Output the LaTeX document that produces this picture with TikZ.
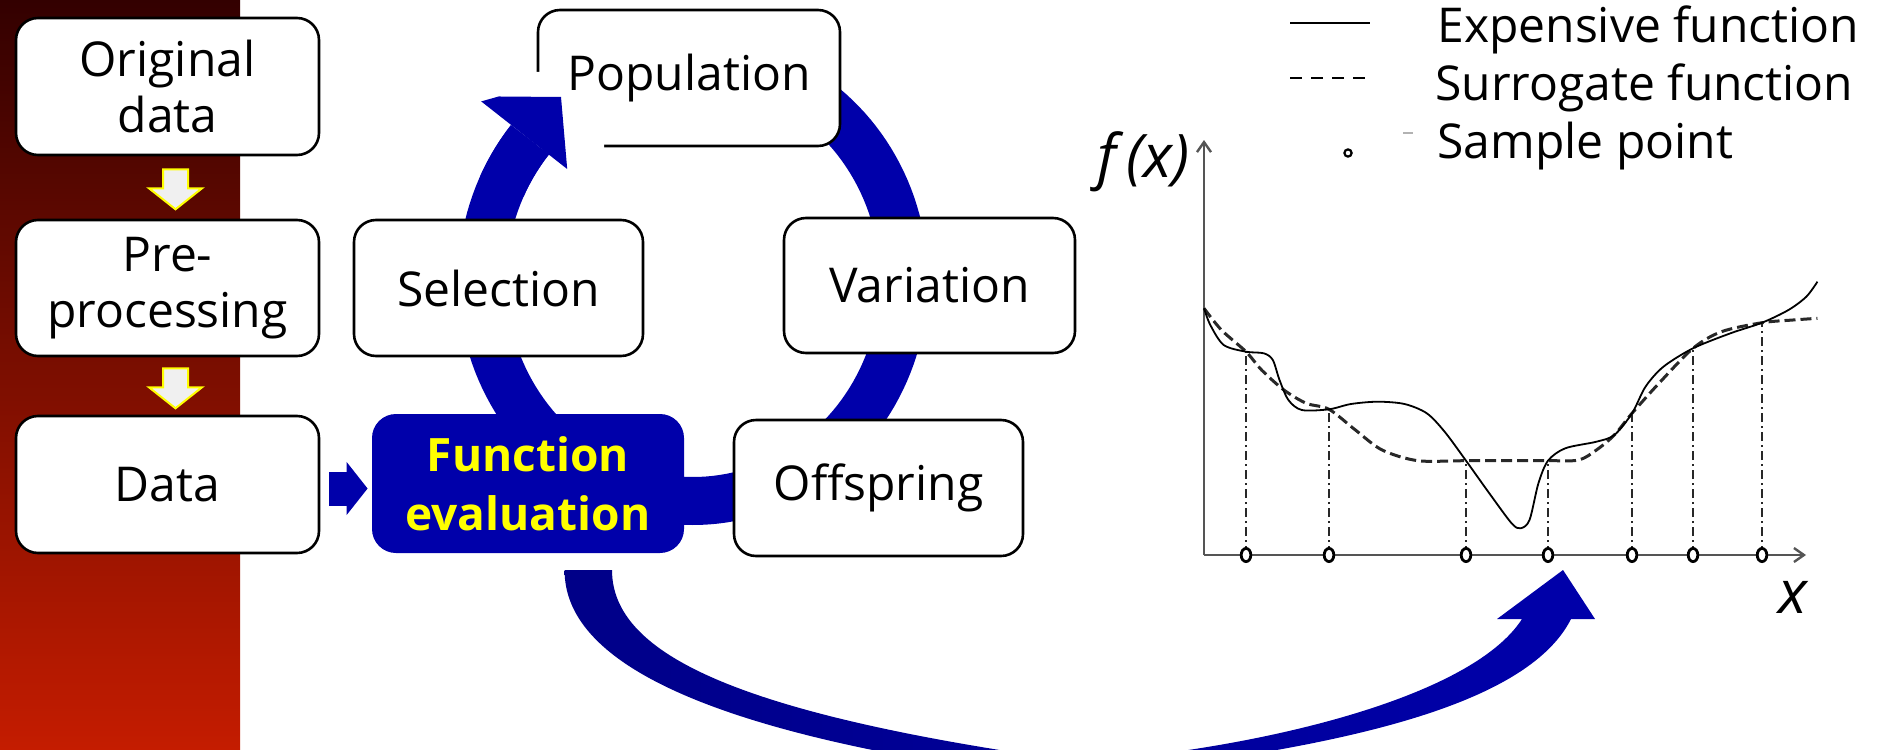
\documentclass[tikz,border=0pt]{standalone}
\usepackage{fontspec}
\setmainfont{Open Sans}
\usetikzlibrary{arrows.meta,calc}
\definecolor{ringblue}{RGB}{0,0,170}
\definecolor{navyblue}{RGB}{0,0,136}
\definecolor{paneltop}{RGB}{51,0,0}
\definecolor{panelbot}{RGB}{196,28,0}
\definecolor{hiliteyellow}{RGB}{255,255,0}
\definecolor{arrowfill}{RGB}{240,240,240}
\definecolor{axisgray}{RGB}{85,85,85}
\definecolor{curvegray}{RGB}{40,40,40}
\begin{document}
\begin{tikzpicture}[x=0.5pt,y=-0.5pt,
  box/.style={draw=black, line width=1.3pt, fill=white, rounded corners=11pt,
    align=center, inner sep=0pt, font=\fontsize{24}{28}\selectfont},
  evalbox/.style={fill=ringblue, draw=none, rounded corners=12pt, align=center,
    inner sep=0pt, text=hiliteyellow, font=\bfseries\fontsize{23}{29.5}\selectfont},
  downarrow/.style={draw=hiliteyellow, line width=1pt, fill=arrowfill, line join=miter},
  axisline/.style={axisgray, line width=1.2pt, -{Straight Barb[length=5pt,width=7pt]}},
  guide/.style={curvegray, line width=0.6pt, dash pattern=on 4.5pt off 2pt on 1pt off 2pt},
  expcurve/.style={black, line width=0.9pt},
  surcurve/.style={curvegray, line width=1.5pt, dash pattern=on 5.5pt off 2.5pt},
  sample/.style={black, line width=1.4pt, fill=white},
  legendtext/.style={font=\fontsize{24}{28}\selectfont, anchor=base west, inner sep=0pt},
  mathlabel/.style={font=\itshape\fontsize{30}{30}\selectfont, inner sep=0pt}
]
\useasboundingbox (0,0) rectangle (1882,749);

% left panel
\shade[top color=paneltop, bottom color=panelbot] (0,0) rectangle (240,749);

% evolutionary cycle ring (top part runs under the population box)
\draw[ringblue, line width=24pt] plot[domain=-75:219.4, samples=140, variable=\t]
  ({693+211*cos(\t)},{280+221*sin(\t)});

% curved arrow from the evaluation step to the chart (its lowest part runs off the page)
\shade[left color=navyblue, right color=ringblue]
  (564.6,570) .. controls (564,660) and (700,735) .. (1060,780)
  .. controls (1280,755) and (1520,720) .. (1571,619)
  -- (1595,619) -- (1563,570) -- (1497,619) -- (1522,619)
  .. controls (1470,700) and (1250,750) .. (1080,762)
  .. controls (740,715) and (612,655) .. (612,570) -- cycle;

% data preparation column
\node[box, minimum width=151.5pt, minimum height=68.5pt] (orig) at (167.5,86.5) {Original\\data};
\node[box, minimum width=151.5pt, minimum height=68pt] (pre) at (167.5,288) {Pre-\\processing};
\node[box, minimum width=151.5pt, minimum height=68.5pt] (data) at (167.5,484.5) {Data};

\draw[downarrow, shift={(orig.south)}]
  (-4.5,13) -- (20.5,13) -- (20.5,32) -- (34.5,32) -- (8,53) -- (-18.5,32) -- (-4.5,32) -- cycle;
\draw[downarrow, shift={(pre.south)}]
  (-4.5,11) -- (20.5,11) -- (20.5,30) -- (34.5,30) -- (8,51) -- (-18.5,30) -- (-4.5,30) -- cycle;

% evolutionary loop boxes
\node[box, minimum width=151pt, minimum height=68pt] (pop) at (689,78) {Population};
\node[box, minimum width=144.5pt, minimum height=68pt] (sel) at (498.5,288) {Selection};
\node[box, minimum width=145.5pt, minimum height=67.5pt] (var) at (929.5,285.5) {Variation};
\node[box, minimum width=144.5pt, minimum height=68pt] (off) at (878.5,488) {Offspring};
\node[evalbox, minimum width=156pt, minimum height=69.5pt] (func) at (528,483.5) {Function\\evaluation};

\draw[ringblue, line width=17pt, -{Triangle[length=10.5pt,width=26pt]},
  shorten <=4.5pt, shorten >=2pt] ([yshift=-2pt]data.east) -- ([yshift=-2pt]data.east -| func.west);

% arrow head of the ring, partly washed out over the population box corner
\fill[white] (535,72) -- (566,72) -- (566,112) -- (604,112) -- (604,149) -- (535,149) -- cycle;
\draw[ringblue, line width=24pt] plot[domain=205:219.4, samples=20, variable=\t]
  ({693+211*cos(\t)},{280+221*sin(\t)});
\begin{scope}
  \clip (440,96) -- (561,97) -- (569,190) -- (440,190) -- cycle;
  \fill[ringblue] (481.2,101.4) -- (582.4,72.9) -- (578.6,178.0) -- cycle;
\end{scope}

% chart: axes
\coordinate (origin) at (1204,555);
\coordinate (xend) at (1806,555);
\coordinate (yend) at (1204,140);
\draw[axisline] (origin) -- (xend);
\draw[axisline] (origin) -- (yend);

% sample guides
\foreach \sx/\sy in {1246/351.7, 1329/409.3, 1466/460.7, 1548/460.7, 1632/413.3, 1693/348.3, 1762/322.7}
  \draw[guide] (\sx,555) -- (\sx,\sy);

% surrogate model
\draw[surcurve] plot[smooth, tension=0.5] coordinates {(1204,308.3) (1221.4,330) (1246,351.7)
  (1261.6,370) (1283.9,390) (1306.3,403.3) (1329,409.3) (1355.4,430) (1382.1,450) (1417.9,460.7)
  (1466,460.7) (1548,460.7) (1578.6,460) (1596.4,450) (1614.3,435) (1632,413.3) (1658.9,383.3)
  (1693,348.3) (1721.4,331.7) (1762,322.7) (1792.9,320) (1817.4,318.3)};

% expensive function
\draw[expcurve] plot[smooth, tension=0.5] coordinates {(1204,308.3) (1210.3,325) (1223.7,345)
  (1246,351.7) (1263.8,353.3) (1272.8,360) (1279.5,380) (1288.4,400) (1301.8,410) (1329,409.3)
  (1350.9,404) (1377.7,401.7) (1404.5,404) (1426.8,413.3) (1444.6,431.7) (1466,460.7)
  (1489.3,493.3) (1511.6,523.3) (1520.5,528.3) (1529.5,520) (1538.4,483.3) (1548,460.7)
  (1565.2,448.3) (1596.4,441.7) (1614.3,435) (1632,413.3) (1645.5,386.7) (1663.4,366.7)
  (1693,348.3) (1730.4,333.3) (1762,322.7) (1788.4,310) (1806.3,296.7) (1817.4,281.7)};

% sample points on the axis
\foreach \sx in {1246, 1329, 1466, 1548, 1632, 1693, 1762}
  \draw[sample] (\sx,555) ellipse [x radius=2.4pt, y radius=3.3pt];

\node[mathlabel, anchor=base east] (fx) at (1190,177) {f\,(x)};
\node[mathlabel, anchor=base west] (xlab) at (1778,613) {x};

% legend
\coordinate (l1a) at (1290,23);  \coordinate (l1b) at (1370,23);
\coordinate (l2a) at (1290,78);  \coordinate (l2b) at (1368,78);
\draw[black, line width=1.3pt] (l1a) -- (l1b);
\draw[black, line width=1pt, dash pattern=on 6pt off 4.5pt] (l2a) -- (l2b);
\draw[black, line width=1.1pt] (1348,153) circle [radius=1.8pt];
\draw[gray!60, line width=1pt] (1403,133) -- (1413,133);
\node[legendtext] (lexp) at (1437,43) {Expensive function};
\node[legendtext] (lsur) at (1435,100) {Surrogate function};
\node[legendtext] (lsam) at (1437,158) {Sample point};
\end{tikzpicture}
\end{document}
